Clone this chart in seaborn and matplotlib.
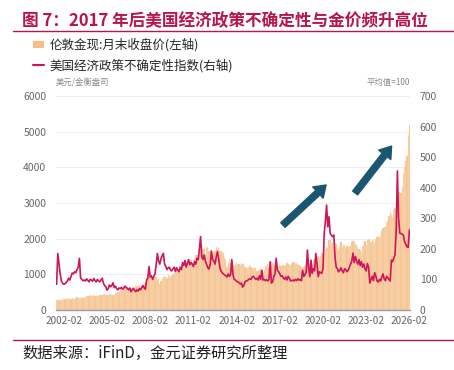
import numpy as np
import pandas as pd
import matplotlib
matplotlib.use('Agg')
import matplotlib.pyplot as plt
import seaborn as sns
from matplotlib.patches import Patch
from matplotlib.lines import Line2D

sns.set_style('white')
plt.rcParams['font.family'] = ['Noto Sans CJK SC', 'DejaVu Sans']

months = pd.period_range('2001-08', '2026-02', freq='M').strftime('%Y-%m')

# London gold, month-end close (USD/oz), left axis
gold = [
    273, 293, 279, 275, 277,  # 2001 Aug-Dec
    283, 297, 302, 308, 326, 318, 305, 313, 324, 316, 318, 347,
    368, 350, 334, 336, 361, 346, 354, 375, 388, 386, 398, 417,
    400, 396, 424, 388, 393, 395, 391, 408, 416, 426, 453, 438,
    422, 434, 428, 436, 418, 437, 430, 433, 473, 470, 495, 513,
    569, 556, 583, 644, 653, 614, 633, 623, 599, 604, 647, 632,
    652, 665, 662, 677, 659, 650, 665, 673, 743, 789, 783, 836,
    923, 971, 934, 871, 885, 930, 919, 834, 884, 730, 815, 870,
    920, 952, 917, 891, 975, 934, 940, 955, 996, 1040, 1175, 1104,
    1078, 1109, 1113, 1180, 1207, 1244, 1169, 1246, 1307, 1346, 1386, 1405,
    1327, 1411, 1439, 1535, 1536, 1505, 1628, 1813, 1620, 1722, 1746, 1531,
    1744, 1770, 1662, 1651, 1558, 1598, 1622, 1648, 1776, 1720, 1727, 1657,
    1664, 1588, 1598, 1469, 1394, 1192, 1314, 1394, 1326, 1324, 1253, 1205,
    1251, 1326, 1292, 1289, 1250, 1315, 1286, 1286, 1216, 1164, 1182, 1199,
    1260, 1214, 1187, 1180, 1191, 1172, 1098, 1135, 1115, 1142, 1057, 1060,
    1112, 1234, 1237, 1285, 1215, 1320, 1342, 1309, 1322, 1272, 1178, 1146,
    1212, 1255, 1245, 1266, 1266, 1243, 1269, 1311, 1283, 1271, 1275, 1291,
    1345, 1317, 1325, 1316, 1298, 1250, 1224, 1201, 1187, 1215, 1220, 1279,
    1319, 1316, 1292, 1283, 1295, 1409, 1427, 1523, 1485, 1510, 1463, 1515,
    1589, 1610, 1577, 1703, 1730, 1768, 1962, 1968, 1887, 1879, 1763, 1887,
    1863, 1743, 1691, 1769, 1900, 1770, 1812, 1813, 1743, 1783, 1775, 1806,
    1797, 1907, 1942, 1897, 1842, 1817, 1753, 1711, 1672, 1640, 1768, 1812,
    1928, 1826, 1969, 1990, 1962, 1919, 1965, 1940, 1871, 1983, 2036, 2062,
    2039, 2044, 2214, 2286, 2327, 2327, 2426, 2503, 2634, 2744, 2650, 2610,
    2812, 2858, 3124, 3289, 3289, 3303, 3290, 3448, 3825, 3996, 4180, 4330,
    4900, 5180,  # 2026 Jan-Feb
]

# US economic policy uncertainty index (mean = 100), right axis
epu = [
    84, 185, 150, 118, 95,  # 2001 Aug-Dec
    88, 84, 86, 90, 95, 104, 98, 110, 121, 118, 125, 122,
    132, 140, 169, 105, 100, 96, 98, 95, 102, 97, 92, 100,
    98, 94, 103, 96, 92, 100, 95, 92, 98, 104, 88, 80,
    76, 65, 70, 82, 76, 80, 89, 74, 78, 70, 66, 72,
    70, 74, 68, 72, 78, 74, 70, 66, 72, 60, 66, 70,
    64, 60, 66, 62, 70, 66, 74, 80, 72, 68, 98, 104,
    142, 108, 112, 100, 110, 118, 150, 185, 160, 150, 168, 178,
    185, 150, 142, 132, 138, 140, 130, 128, 135, 140, 126, 138,
    130, 125, 140, 132, 155, 145, 162, 140, 152, 165, 148, 155,
    150, 142, 158, 150, 169, 165, 200, 240, 174, 165, 180, 160,
    150, 138, 134, 150, 193, 165, 160, 150, 172, 191, 170, 140,
    128, 122, 118, 115, 112, 108, 118, 110, 115, 165, 115, 100,
    98, 94, 92, 90, 85, 88, 75, 80, 92, 95, 96, 100,
    102, 100, 108, 110, 105, 100, 104, 98, 112, 100, 130, 98,
    100, 96, 99, 95, 100, 158, 88, 92, 110, 118, 169, 130,
    125, 118, 110, 112, 105, 100, 108, 98, 110, 104, 95, 96,
    98, 95, 100, 96, 102, 98, 100, 96, 130, 110, 115, 125,
    196, 140, 109, 163, 120, 135, 128, 185, 150, 109, 125, 122,
    120, 135, 251, 290, 343, 272, 305, 250, 245, 240, 245, 174,
    140, 135, 125, 130, 138, 128, 122, 135, 132, 125, 130, 140,
    150, 160, 186, 155, 175, 160, 150, 165, 145, 158, 140, 150,
    135, 128, 152, 140, 88, 100, 110, 96, 122, 112, 95, 92,
    100, 95, 108, 118, 102, 96, 110, 105, 100, 95, 163, 158,
    170, 180, 260, 455, 300, 251, 250, 248, 245, 223, 215, 207,
    205, 262,  # 2026 Jan-Feb
]

tick_labels = ['2002-02', '2005-02', '2008-02', '2011-02', '2014-02',
               '2017-02', '2020-02', '2023-02', '2026-02']
left_ticks = [0, 1000, 2000, 3000, 4000, 5000, 6000]
right_ticks = [0, 100, 200, 300, 400, 500, 600, 700]

df = pd.DataFrame({'month': months, 'gold': gold, 'epu': epu})
df['pos'] = np.arange(len(df))

bar_color = '#F5BE86'
line_color = '#D2145A'
red = '#B8154A'
grey = '#666666'

fig = plt.figure(figsize=(4.54, 3.7), dpi=100)
ax = fig.add_axes([56 / 454, 1 - 310 / 370, 354 / 454, 214 / 370])

sns.barplot(data=df, x='month', y='gold', color=bar_color, saturation=1,
            width=1.0, linewidth=0.25, edgecolor='#FBE2C8', ax=ax)
ax.set_xlim(-0.5, len(df) - 0.5)
ax.set_ylim(0, 6000)
ax.set_yticks(left_ticks)
pos = [list(df['month']).index(t) for t in tick_labels]
ax.set_xticks(pos, tick_labels)
ax.yaxis.grid(True, color='#EEEEEE', lw=0.8)
ax.set_axisbelow(True)
ax.tick_params(length=0, labelsize=7.5, labelcolor=grey)
ax.tick_params(axis='y', pad=7)
ax.tick_params(axis='x', pad=4, labelsize=7.2)
ax.set_xlabel('')
ax.set_ylabel('')
for s in ['top', 'left', 'right']:
    ax.spines[s].set_visible(False)
ax.spines['bottom'].set_color('#9A98B0')
ax.spines['bottom'].set_linewidth(1)

ax2 = ax.twinx()
sns.lineplot(data=df, x='pos', y='epu', color=line_color, lw=1.2, ax=ax2)
ax2.set_ylim(0, 700)
ax2.set_yticks(right_ticks)
ax2.tick_params(length=0, labelsize=7.5, labelcolor=grey, pad=7)
ax2.set_ylabel('')
ax2.set_xlabel('')
for s in ax2.spines.values():
    s.set_visible(False)
ax.set_xlim(-0.5, len(df) - 0.5)

# arrows
arrow = dict(arrowstyle='simple,head_width=1.1,head_length=0.8,tail_width=0.45',
             mutation_scale=10, color='#1B5670', shrinkA=0, shrinkB=0)
ax2.annotate('', xy=(0.763, 0.584), xytext=(0.641, 0.397), xycoords='axes fraction',
             arrowprops=arrow, annotation_clip=False)
ax2.annotate('', xy=(0.948, 0.766), xytext=(0.845, 0.547), xycoords='axes fraction',
             arrowprops=arrow, annotation_clip=False)

# unit labels
fig.text(56 / 454, 1 - 82 / 370, '美元/金衡盎司', fontsize=6, color='#8A8A8A', va='center')
fig.text(410 / 454, 1 - 82 / 370, '平均值=100', fontsize=6, color='#8A8A8A',
         va='center', ha='right')

# legend
handles = [Patch(facecolor=bar_color, edgecolor='none'),
           Line2D([0], [0], color=line_color, lw=1.5)]
labels = ['伦敦金现:月末收盘价(左轴)', '美国经济政策不确定性指数(右轴)']
fig.legend(handles, labels, loc='upper left', bbox_to_anchor=(28 / 454, 1 - 33 / 370),
           frameon=False, fontsize=9, handlelength=0.9, handleheight=0.45,
           labelspacing=0.55, handletextpad=0.4, borderaxespad=0)

# title and source
fig.text(22 / 454, 1 - 21 / 370, '图 7：2017 年后美国经济政策不确定性与金价频升高位',
         fontsize=12, fontweight='bold', color=red, va='center')
fig.add_artist(Line2D([13 / 454, 1], [1 - 31 / 370] * 2, color=red, lw=1))
fig.add_artist(Line2D([13 / 454, 1], [1 - 340 / 370] * 2, color=red, lw=1))
fig.text(22 / 454, 1 - 353 / 370, '数据来源：iFinD，金元证券研究所整理',
         fontsize=11, color='#222222', va='center')

fig.savefig('out.png', dpi=100)
